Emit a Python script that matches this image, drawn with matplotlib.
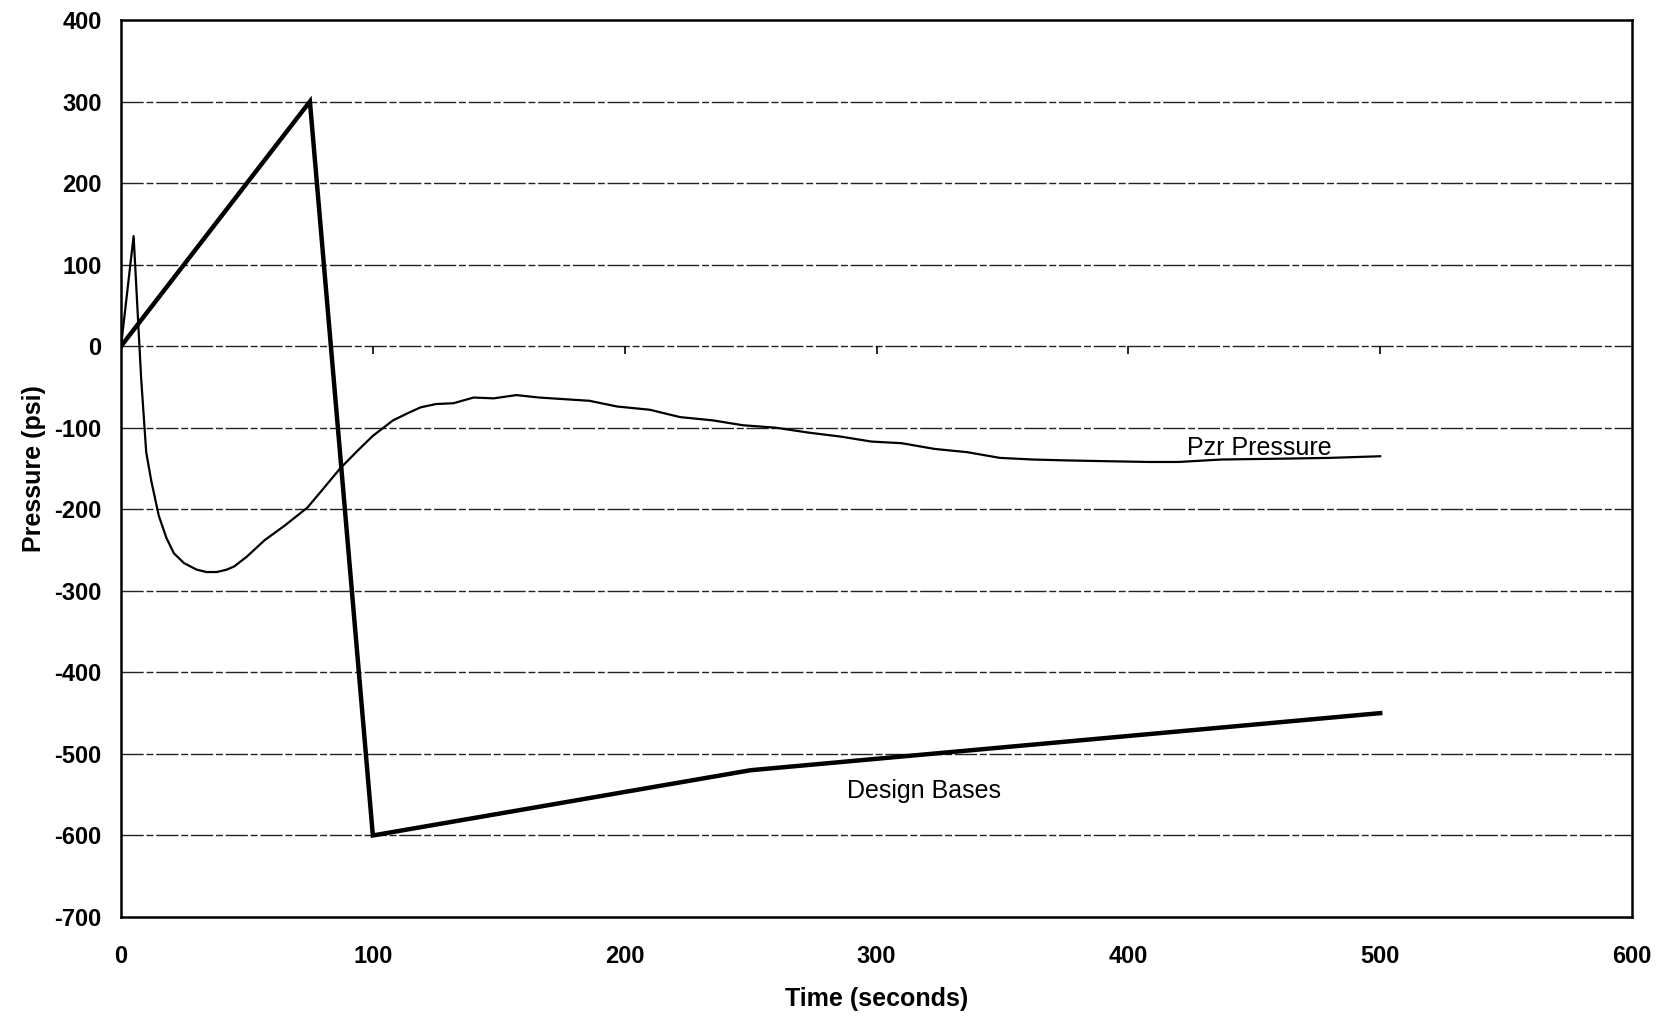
"""Pressurizer pressure vs design bases curve."""

import matplotlib.pyplot as plt

plt.rcParams["font.family"] = ["Liberation Sans", "DejaVu Sans"]
plt.rcParams["axes.unicode_minus"] = False

design_time = [0, 75, 100, 250, 500]
design_psi = [0, 300, -600, -520, -450]

pzr_time = [0, 5, 8, 10, 12, 15, 18, 21, 25, 30, 34, 38, 42, 45, 50, 57, 65,
            74, 80, 87, 94, 100, 108, 114, 119, 125, 132, 140, 148, 157, 166,
            176, 186, 197, 210, 222, 235, 247, 260, 273, 286, 298, 310, 323,
            336, 349, 362, 374, 390, 408, 420, 437, 460, 480, 500]
pzr_psi = [0, 135, -40, -130, -165, -208, -235, -254, -266, -274, -277, -277,
           -274, -270, -258, -238, -220, -198, -176, -150, -128, -110, -91,
           -82, -75, -71, -70, -63, -64, -60, -63, -65, -67, -74, -78, -87,
           -91, -97, -100, -106, -111, -117, -119, -126, -130, -137, -139,
           -140, -141, -142, -142, -139, -138, -137, -135]

x_ticks = [0, 100, 200, 300, 400, 500, 600]
y_ticks = [400, 300, 200, 100, 0, -100, -200, -300, -400, -500, -600, -700]

fig = plt.figure(figsize=(16.67, 10.18), dpi=100)
ax = fig.add_axes([0.0726, 0.0992, 0.9064, 0.8812])

for y in y_ticks[1:-1]:
    ax.axhline(y, color="#222222", lw=1.0, ls=(0, (16, 2, 5, 2)), zorder=1)

ax.plot(design_time, design_psi, color="black", lw=3.2, solid_joinstyle="miter", zorder=3)
ax.plot(pzr_time, pzr_psi, color="black", lw=1.6, zorder=3)

# small tick marks on the zero line, as the category axis crosses there
ax.vlines(x_ticks[1:-1], -10, 0, color="black", lw=1.2, zorder=2)

ax.text(452, -125, "Pzr Pressure", fontsize=18, ha="center", va="center")
ax.text(319, -546, "Design Bases", fontsize=18, ha="center", va="center")

ax.set_xlim(0, 600)
ax.set_ylim(-700, 400)
ax.set_xticks(x_ticks)
ax.set_yticks(y_ticks)
ax.tick_params(length=0, labelsize=17)
ax.tick_params(axis="y", pad=14)
ax.tick_params(axis="x", pad=20)
for label in ax.get_xticklabels() + ax.get_yticklabels():
    label.set_fontweight("bold")

for spine in ax.spines.values():
    spine.set_linewidth(1.8)

ax.set_xlabel("Time (seconds)", fontsize=18, fontweight="bold", labelpad=14)
ax.set_ylabel("Pressure (psi)", fontsize=18, fontweight="bold", labelpad=6)

fig.savefig("out.png", dpi=100, facecolor="white")
